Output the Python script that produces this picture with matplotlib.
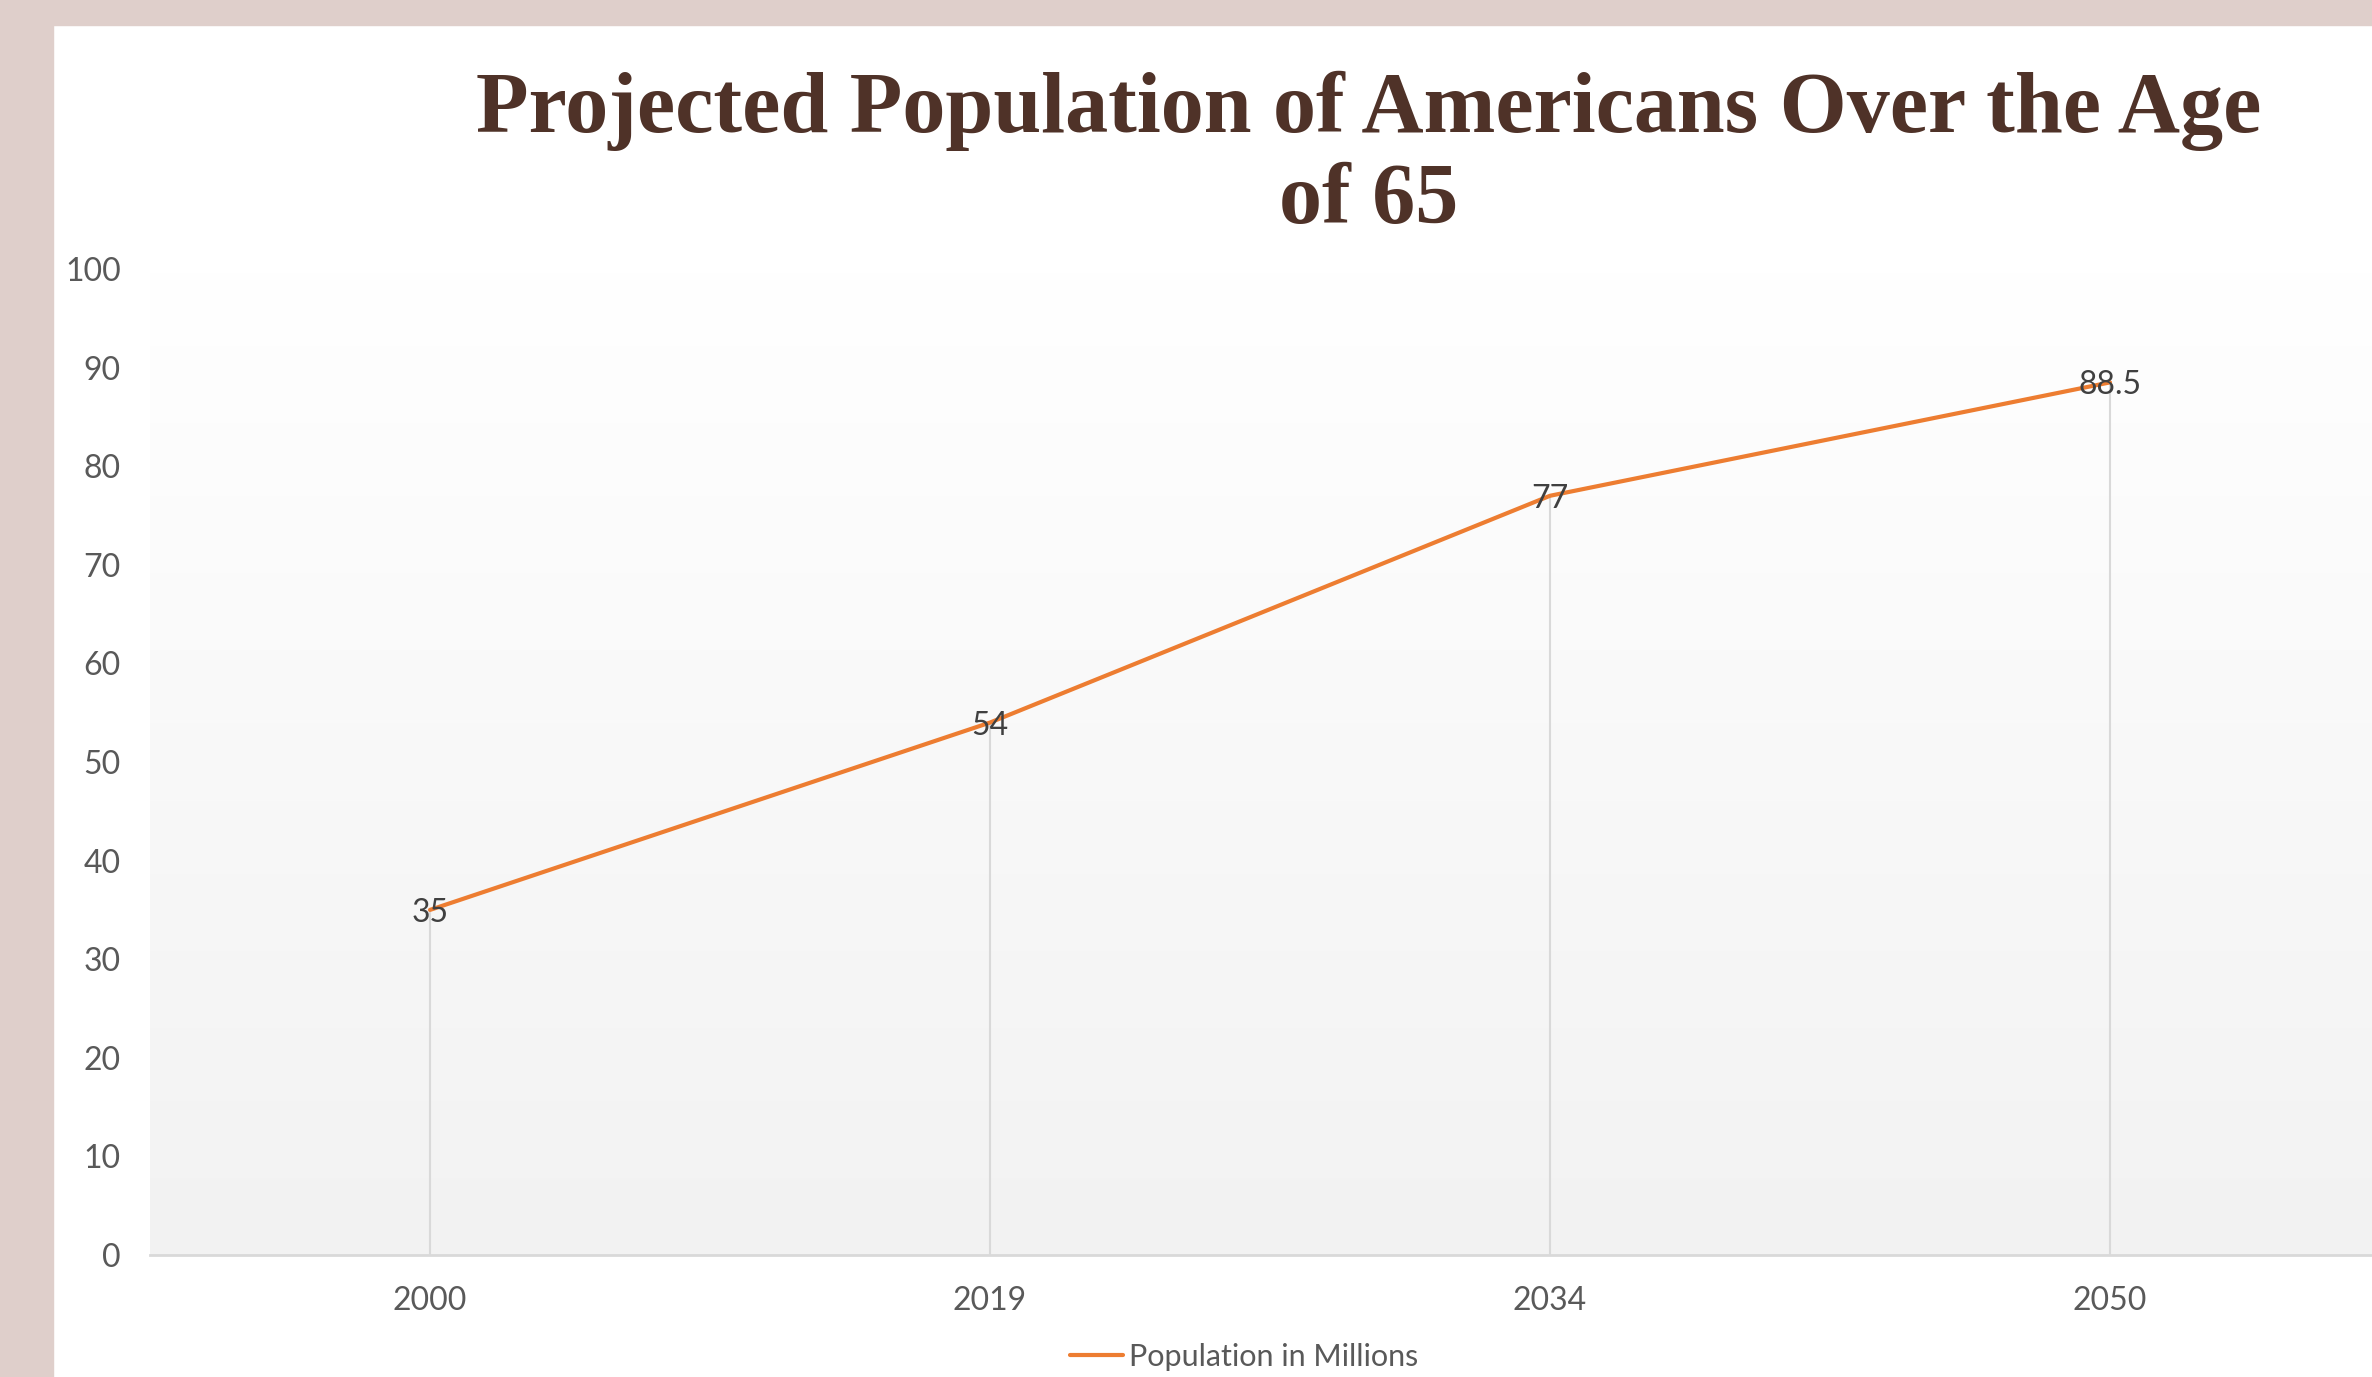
import numpy as np
import matplotlib
matplotlib.use('Agg')
import matplotlib.pyplot as plt
from matplotlib.colors import LinearSegmentedColormap

years = ['2000', '2019', '2034', '2050']
population = [35, 54, 77, 88.5]
yticks = [0, 10, 20, 30, 40, 50, 60, 70, 80, 90, 100]
series_name = 'Population in Millions'
title = 'Projected Population of Americans Over the Age\nof 65'

line_color = '#ED7D31'
text_color = '#595959'
label_color = '#404040'
border_color = '#DFCFCB'
title_color = '#4F3228'

W, H = 2372, 1377
fig = plt.figure(figsize=(W / 100, H / 100), dpi=100)
fig.patch.set_facecolor('white')

# pink frame on left and top
fig.patches.append(plt.Rectangle((0, 0), 53 / W, 1, transform=fig.transFigure,
                                 color=border_color, zorder=0))
fig.patches.append(plt.Rectangle((0, 1 - 25 / H), 1, 25 / H, transform=fig.transFigure,
                                 color=border_color, zorder=0))

ax = fig.add_axes((150 / W, (H - 1255) / H, 2240 / W, 986 / H))
ax.set_facecolor('none')

# plot area gradient
cmap = LinearSegmentedColormap.from_list('g', ['#F2F2F2', '#FFFFFF'])
grad = np.linspace(0, 1, 256).reshape(-1, 1)
ax.imshow(grad, extent=[0, 1, 0, 1], transform=ax.transAxes, aspect='auto',
          cmap=cmap, origin='lower', zorder=0)

x = np.arange(len(years))
ax.vlines(x, 0, population, color='#D9D9D9', lw=1.5, zorder=1)
ax.plot(x, population, color=line_color, lw=3, solid_capstyle='round',
        zorder=3, label=series_name)
for xi, v in zip(x, population):
    ax.text(xi, v, '{:g}'.format(v), ha='center', va='center_baseline', fontsize=23,
            family='Lato', color=label_color, zorder=4)

ax.set_xlim(-0.5, len(years) - 0.5)
ax.set_ylim(0, 100)
ax.set_xticks(x)
ax.set_xticklabels(years)
ax.set_yticks(yticks)
ax.tick_params(length=0, labelsize=23, colors=text_color)
ax.tick_params(axis='y', pad=21)
ax.tick_params(axis='x', pad=22)
for lab in ax.get_xticklabels() + ax.get_yticklabels():
    lab.set_family('Lato')
for s in ['top', 'right', 'left']:
    ax.spines[s].set_visible(False)
ax.spines['bottom'].set_color('#D9D9D9')
ax.spines['bottom'].set_linewidth(2)

fig.text(1369 / W, 1 - 71 / H, title, ha='center', va='top', fontsize=62,
         family='Liberation Serif', weight='bold', color=title_color,
         linespacing=1.2)

leg = fig.legend(loc='center', bbox_to_anchor=(1244 / W, 1 - 1357 / H),
                 frameon=False, handlelength=1.75, handletextpad=0.2,
                 prop={'family': 'Lato', 'size': 22})
for t in leg.get_texts():
    t.set_color(text_color)

fig.savefig('out.png', dpi=100)
